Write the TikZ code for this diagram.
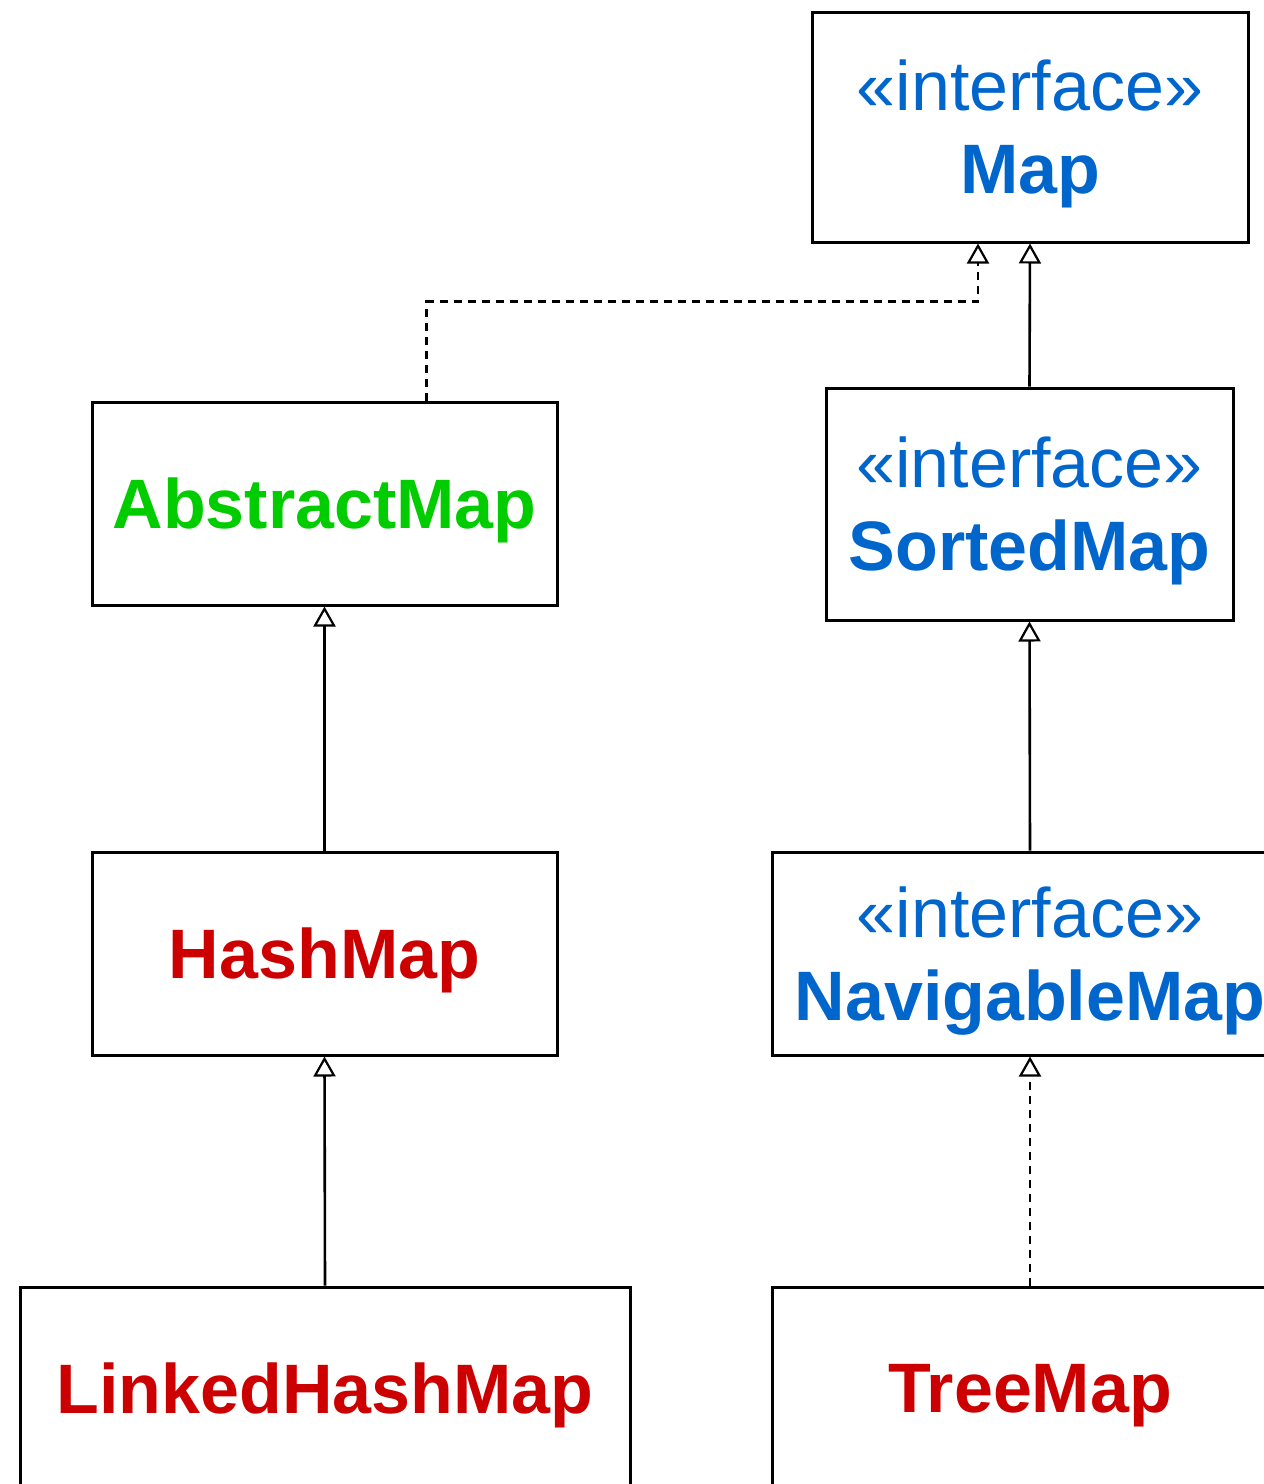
\documentclass[tikz,border=0pt]{standalone}
\usepackage{fontspec}
\setmainfont{Liberation Sans}
\usepackage{tikz}
\usepackage{xcolor}
\usetikzlibrary{positioning, arrows.meta}

\definecolor{ifaceblue}{HTML}{0066CC}
\definecolor{absgreen}{HTML}{00CC00}
\definecolor{classred}{HTML}{CC0000}

\begin{document}
\begin{tikzpicture}[x=0.5pt, y=-0.5pt,
  every node/.style={font=\fontsize{35pt}{41.5pt}\selectfont},
  box/.style={draw, line width=1.5pt, inner sep=0pt, align=center, text depth=0pt},
  extends/.style={line width=1.3pt, -{Triangle[open, length=10pt, width=11pt, line width=1.1pt]}},
  realizes/.style={extends, dash pattern=on 4pt off 3pt}]
  \useasboundingbox (0,0) rectangle (1264,1484);
  \clip (0,0) rectangle (1264,1484); %boxes on the right and bottom run off the page
  % interfaces
  \node[box, minimum width=218pt, minimum height=115pt, text=ifaceblue] (map) at (1030,127) {«interface»\\\textbf{Map}};
  \node[box, minimum width=203.5pt, minimum height=116pt, text=ifaceblue] (sorted) at (1029.5,504) {«interface»\\\textbf{SortedMap}};
  \node[box, minimum width=258pt, minimum height=101.5pt, text=ifaceblue] (navigable) at (1030,953.5) {«interface»\\\textbf{NavigableMap}};
  % classes
  \node[box, minimum width=232.5pt, minimum height=101.5pt, text=absgreen] (abstract) at (324.5,503.5) {\textbf{AbstractMap}};
  \node[box, minimum width=232.5pt, minimum height=101.5pt, text=classred] (hash) at (324.5,953.5) {\textbf{HashMap}};
  \node[box, minimum width=305pt, minimum height=101pt, text=classred] (linked) at (325,1388) {\textbf{LinkedHashMap}};
  \node[box, minimum width=258pt, minimum height=101pt, text=classred] (tree) at (1030,1388) {\textbf{TreeMap}};
  % arrows
  \coordinate (bend) at ([xshift=-26pt, yshift=-29pt]map.south);
  \draw[realizes] ([xshift=51pt]abstract.north) |- (bend) -- ([xshift=-26pt]map.south);
  \draw[extends] (sorted.north) -- (map.south);
  \draw[extends] (navigable.north) -- (sorted.south);
  \draw[extends] (hash.north) -- (abstract.south);
  \draw[extends] (linked.north) -- (hash.south);
  \draw[realizes] (tree.north) -- (navigable.south);
\end{tikzpicture}
\end{document}
